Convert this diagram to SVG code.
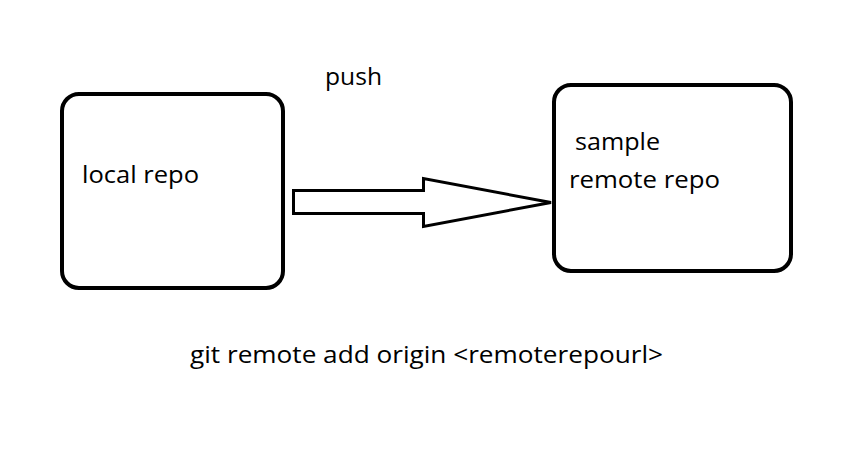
<svg xmlns="http://www.w3.org/2000/svg" width="862" height="453" viewBox="0 0 862 453">
<style>
.box{fill:#fff;stroke:#000;stroke-width:4}
.lbl{font-family:"Open Sans","Noto Sans","Liberation Sans",sans-serif;font-size:24px;fill:#000}
.arrow{fill:#fff;stroke:#000;stroke-width:3;stroke-linejoin:miter}
</style>
<rect width="862" height="453" fill="#fff"/>
<g id="local">
<rect class="box" x="62" y="94" width="221" height="194" rx="17"/>
<text class="lbl" x="82" y="183" textLength="117" lengthAdjust="spacingAndGlyphs">local repo</text>
</g>
<g id="remote">
<rect class="box" x="554" y="85" width="237" height="186" rx="17"/>
<text class="lbl" x="575" y="150" textLength="85" lengthAdjust="spacingAndGlyphs">sample</text>
<text class="lbl" x="569" y="188" textLength="151" lengthAdjust="spacingAndGlyphs">remote repo</text>
</g>
<g id="connectors">
<polygon class="arrow" points="293.5,190.5 423.5,190.5 423.5,178.5 551,202.5 423.5,226.5 423.5,213.5 293.5,213.5"/>
</g>
<text class="lbl" x="325" y="85" textLength="57" lengthAdjust="spacingAndGlyphs">push</text>
<text class="lbl" x="190" y="363" textLength="473" lengthAdjust="spacingAndGlyphs">git remote add origin &lt;remoterepourl&gt;</text>
</svg>
